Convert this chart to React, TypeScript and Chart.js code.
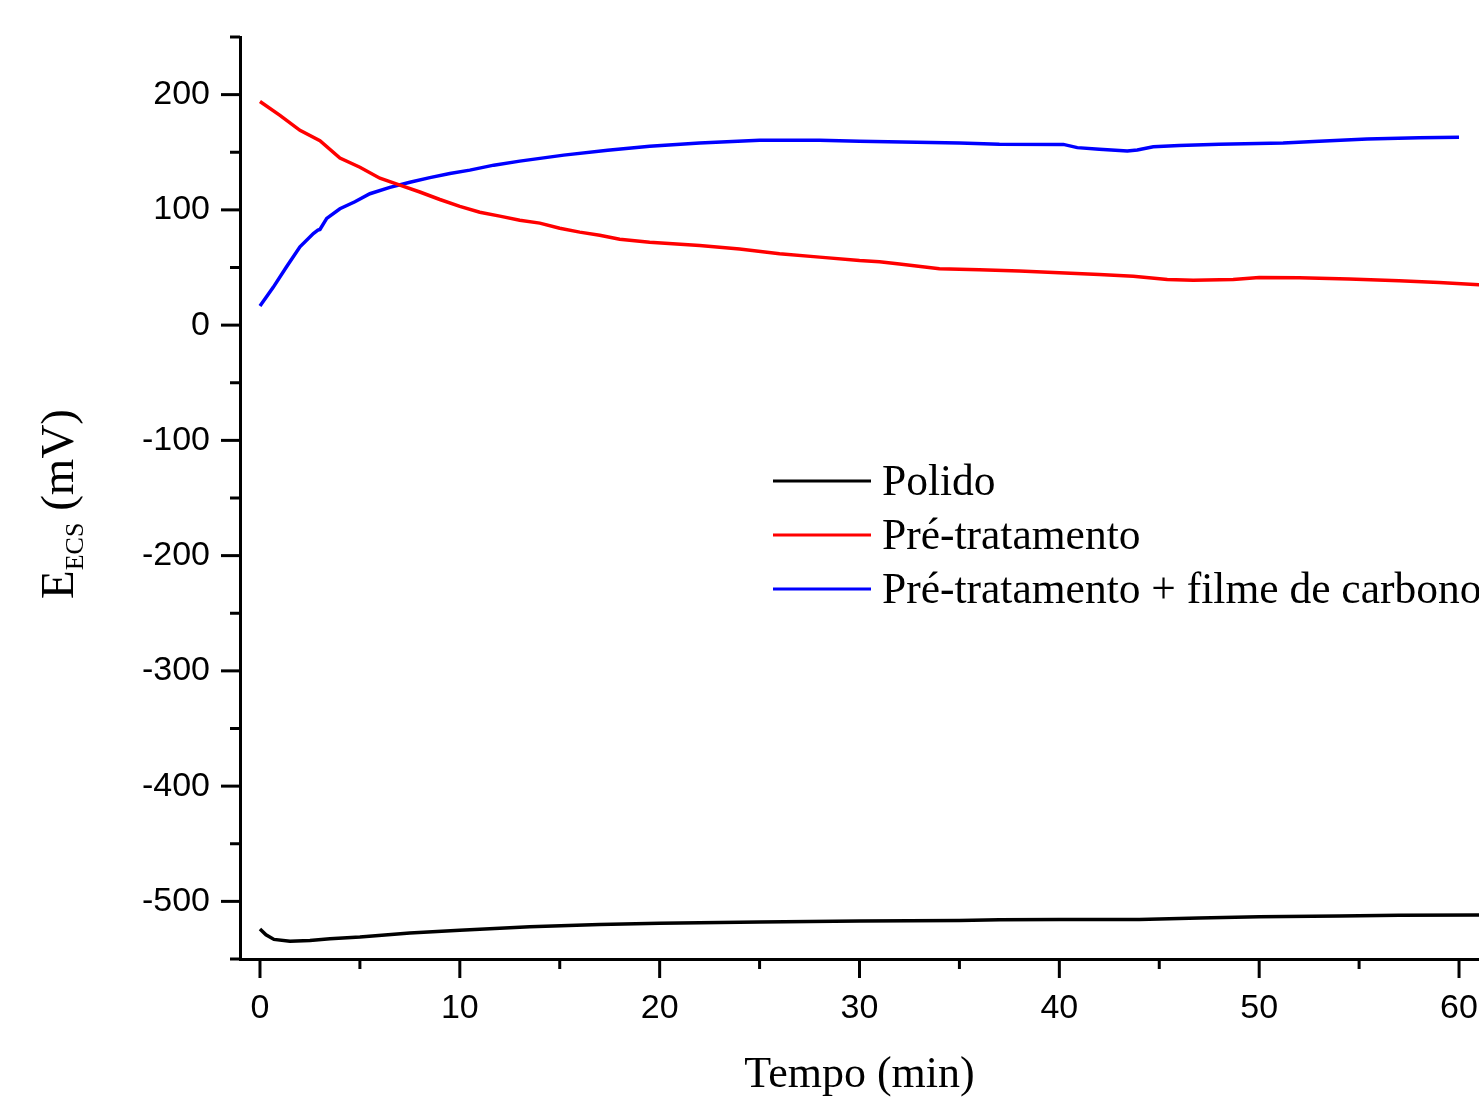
import React, { useEffect, useRef } from "react";
import { Chart, registerables } from "chart.js";

Chart.register(...registerables);

// ---- data ----
const seriesLabels = ["Polido", "Pré-tratamento", "Pré-tratamento + filme de carbono"];
const seriesColors = ["#000000", "#ff0000", "#0000ff"];

const tPolido = [0, 0.3, 0.7, 1.5, 2.5, 3.5, 5, 7.5, 10, 13.5, 17, 20, 25, 30, 35, 37, 40, 44, 47, 50, 54, 57, 61.5];
const ePolido = [-524, -529, -533, -534.5, -534, -532.5, -531, -527.5, -525, -522, -520, -519, -518, -517, -516.5, -516, -515.7, -515.7, -514.5, -513.4, -512.6, -512, -511.7];

const tPre = [0, 1, 2, 3, 4, 5, 6, 7, 8, 9, 10, 11, 12, 13, 14, 15, 16, 17, 18, 19.5, 22, 24, 26, 28, 30, 31, 32, 34, 36, 38, 40, 42, 43.7, 45.4, 46.7, 48.7, 50, 52, 54.5, 57, 59, 61.5];
const ePre = [194, 182, 169, 160, 145, 137, 127.5, 121.5, 115.5, 109, 103, 98, 94.6, 91, 88.5, 84, 80.7, 78, 74.6, 72, 69, 66, 62, 59, 56, 55, 53, 49, 48, 47, 45.5, 44, 42.5, 39.6, 39, 39.6, 41.4, 41, 40, 38.5, 37, 34.5];

const tFilme = [0, 0.67, 1.33, 2, 2.67, 2.9, 3.0, 3.34, 4, 4.75, 5.5, 6.5, 7.5, 8.5, 9.5, 10.5, 11.7, 13, 15.2, 17.4, 19.5, 22, 25, 28, 30, 35, 37, 40.2, 40.9, 42, 43.4, 43.9, 44.7, 46, 48, 51.2, 53, 55.4, 58, 60];
const eFilme = [16.5, 33, 50.6, 68, 79.5, 82.4, 83, 92.6, 101, 107, 114, 119.5, 124, 128, 131.6, 134.5, 138.8, 142.3, 147.5, 151.8, 155.3, 158, 160.5, 160.5, 159.6, 158, 157, 156.8, 154, 152.5, 151, 152, 154.7, 155.8, 157, 158, 159.5, 161.4, 162.5, 163];

const xTickValues = [0, 10, 20, 30, 40, 50, 60];
const yTickValues = [-500, -400, -300, -200, -100, 0, 100, 200];
const xMinorValues = [5, 15, 25, 35, 45, 55];
const yMinorValues = [-550, -450, -350, -250, -150, -50, 50, 150, 250];

const xTitle = "Tempo (min)";
const yTitleMain = "E";
const yTitleSub = "ECS";
const yTitleUnit = " (mV)";

const toPoints = (t: number[], e: number[]) => t.map((x, i) => ({ x, y: e[i] }));

const SERIF = '"Liberation Serif", "Times New Roman", serif';
const SANS = '"Liberation Sans", Arial, sans-serif';

const ticksPlugin = {
  id: "customTicks",
  afterDraw(chart: any) {
    const ctx = chart.ctx;
    const xs = chart.scales.x;
    const ys = chart.scales.y;
    const ca = chart.chartArea;
    ctx.save();
    ctx.strokeStyle = "#000";
    ctx.lineWidth = 3;
    const line = (x1: number, y1: number, x2: number, y2: number) => {
      ctx.beginPath();
      ctx.moveTo(x1, y1);
      ctx.lineTo(x2, y2);
      ctx.stroke();
    };
    xTickValues.forEach((v) => { const p = xs.getPixelForValue(v); line(p, ca.bottom, p, ca.bottom + 19); });
    xMinorValues.forEach((v) => { const p = xs.getPixelForValue(v); line(p, ca.bottom, p, ca.bottom + 10); });
    yTickValues.forEach((v) => { const p = ys.getPixelForValue(v); line(ca.left - 19, p, ca.left, p); });
    yMinorValues.forEach((v) => { const p = ys.getPixelForValue(v); line(ca.left - 10, p, ca.left, p); });

    // x title
    ctx.fillStyle = "#000";
    ctx.font = `44px ${SERIF}`;
    ctx.textAlign = "center";
    ctx.textBaseline = "alphabetic";
    ctx.fillText(xTitle, (ca.left + ca.right) / 2, 1087);

    // y title (rotated, with subscript)
    ctx.save();
    ctx.translate(73, 504);
    ctx.rotate(-Math.PI / 2);
    ctx.textAlign = "left";
    ctx.font = `47px ${SERIF}`;
    const wE = ctx.measureText(yTitleMain).width;
    const wU = ctx.measureText(yTitleUnit).width;
    ctx.font = `26px ${SERIF}`;
    const wS = ctx.measureText(yTitleSub).width;
    let x = -(wE + wS + wU) / 2;
    ctx.font = `47px ${SERIF}`;
    ctx.fillText(yTitleMain, x, 0);
    x += wE;
    ctx.font = `26px ${SERIF}`;
    ctx.fillText(yTitleSub, x, 10);
    x += wS;
    ctx.font = `47px ${SERIF}`;
    ctx.fillText(yTitleUnit, x, 0);
    ctx.restore();

    // legend
    const ds = chart.data.datasets;
    ctx.font = `43.5px ${SERIF}`;
    ctx.textAlign = "left";
    ctx.textBaseline = "alphabetic";
    ds.forEach((d: any, i: number) => {
      const y = 481 + i * 54;
      ctx.strokeStyle = d.borderColor;
      ctx.lineWidth = 3;
      line(773, y, 871, y);
      ctx.fillStyle = "#000";
      ctx.fillText(d.label, 882, y + 14);
    });
    ctx.restore();
  },
};

export default function App() {
  const ref = useRef<HTMLCanvasElement | null>(null);
  useEffect(() => {
    if (!ref.current) return;
    const chart = new Chart(ref.current, {
      type: "line",
      data: {
        datasets: [
          { label: seriesLabels[0], data: toPoints(tPolido, ePolido), borderColor: seriesColors[0] },
          { label: seriesLabels[1], data: toPoints(tPre, ePre), borderColor: seriesColors[1] },
          { label: seriesLabels[2], data: toPoints(tFilme, eFilme), borderColor: seriesColors[2] },
        ].map((d) => ({ ...d, borderWidth: 3.5, pointRadius: 0, fill: false, tension: 0 })),
      },
      options: {
        responsive: false,
        animation: false,
        events: [],
        layout: { padding: { top: 37, left: 0, right: 0, bottom: 0 } },
        plugins: { legend: { display: false }, tooltip: { enabled: false } },
        scales: {
          x: {
            type: "linear",
            min: -1,
            max: 61,
            grid: { display: false, drawTicks: false },
            border: { display: true, color: "#000", width: 3 },
            ticks: { color: "#000", font: { family: SANS, size: 34 }, padding: 29, maxRotation: 0 },
            afterBuildTicks: (s: any) => { s.ticks = xTickValues.map((value) => ({ value })); },
            afterFit: (s: any) => {
              s.height = 140;
              s.paddingLeft = 0; s.paddingRight = 0; s.paddingTop = 0; s.paddingBottom = 0;
            },
          },
          y: {
            type: "linear",
            min: -550,
            max: 250,
            grid: { display: false, drawTicks: false },
            border: { display: true, color: "#000", width: 3 },
            ticks: { color: "#000", font: { family: SANS, size: 34 }, padding: 30 },
            afterBuildTicks: (s: any) => { s.ticks = yTickValues.map((value) => ({ value })); },
            afterFit: (s: any) => {
              s.width = 240;
              s.paddingLeft = 0; s.paddingRight = 0; s.paddingTop = 0; s.paddingBottom = 0;
            },
          },
        },
      },
      plugins: [ticksPlugin],
    });
    return () => chart.destroy();
  }, []);
  return (
    <div style={{ position: "absolute", left: 0, top: 0, width: 1479, height: 1099, overflow: "hidden", background: "#fff" }}>
      <canvas ref={ref} width={1479} height={1099} style={{ display: "block" }} />
    </div>
  );
}
